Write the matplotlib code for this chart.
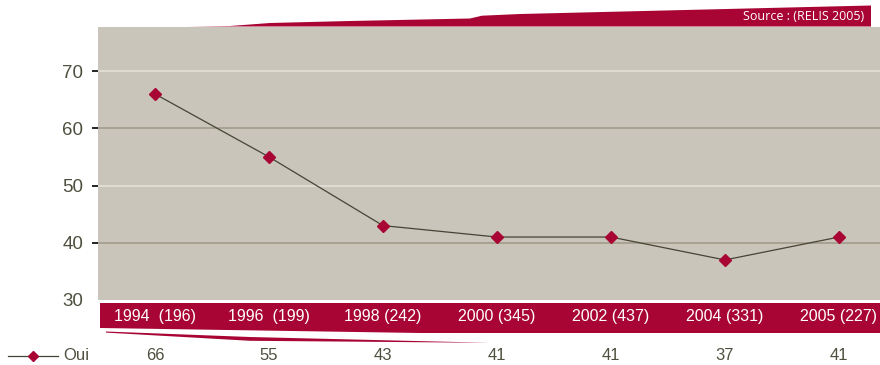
import matplotlib
matplotlib.use("Agg")
import matplotlib.pyplot as plt
from matplotlib.patches import Polygon
from matplotlib.transforms import blended_transform_factory

# Data
years = ["1994  (196)", "1996  (199)", "1998 (242)", "2000 (345)",
         "2002 (437)", "2004 (331)", "2005 (227)"]
oui = [66, 55, 43, 41, 41, 37, 41]
yticks = [30, 40, 50, 60, 70]
series_name = "Oui"
source_text = "Source : (RELIS 2005)"

RED = "#a80534"
BG = "#c9c5ba"
GRID_LIGHT = "#e3e0d9"
GRID_DARK = "#a29c8c"
TXT = "#4f4f3f"
LINE = "#464434"

W, H = 880, 365
fig = plt.figure(figsize=(W / 100, H / 100), dpi=100)
plt.rcParams["font.family"] = ["Liberation Sans", "DejaVu Sans"]


def px(x, y):
    return (x / W, (H - y) / H)


ax = fig.add_axes([98 / W, (H - 300) / H, (W - 98) / W, (300 - 27) / H])
ax.set_facecolor(BG)
ax.set_zorder(1)
for s in ax.spines.values():
    s.set_visible(False)

xs = list(range(len(oui)))
ax.plot(xs, oui, color=LINE, lw=0.9, marker="D", ms=6.5,
        markerfacecolor=RED, markeredgecolor=RED, zorder=3)

ax.set_xlim(-0.5, 6.36)
ax.set_ylim(30, 77.7)
ax.set_xticks([])
ax.set_yticks(yticks)
ax.set_yticklabels([str(v) for v in yticks], fontsize=13.5, color=TXT)
ax.tick_params(axis="y", length=4.5, width=1.2, pad=6)
ax.grid(axis="y", lw=1.2)
for v, t in zip(yticks, ax.yaxis.get_major_ticks()):
    c = GRID_LIGHT if (v // 10) % 2 == 1 else GRID_DARK
    if v == 30:
        t.tick1line.set_visible(False)
        t.gridline.set_visible(False)
    t.tick1line.set_color(c)
    t.gridline.set_color(c)

# Header ribbon with source
header = [px(187, 26.5), px(230, 26), px(270, 23), px(350, 21), px(470, 18.5),
          px(482, 15.7), px(520, 14), px(871, 5.5), px(871, 26.5)]
fig.add_artist(Polygon(header, closed=True, transform=fig.transFigure,
                       facecolor=RED, edgecolor="none", zorder=0))
fig.text(*px(864, 16.5), source_text, ha="right", va="center", color="white",
         fontsize=9, family=["Open Sans", "DejaVu Sans"], zorder=2)

# Category band under the plot
band = [px(100, 303), px(880, 303), px(880, 333), px(420, 333), px(100, 328)]
fig.add_artist(Polygon(band, closed=True, transform=fig.transFigure,
                       facecolor=RED, edgecolor="none", zorder=0))
sliver = [px(106, 331.5), px(250, 337), px(490, 342.8),
          px(250, 340.8), px(106, 332.6)]
fig.add_artist(Polygon(sliver, closed=True, transform=fig.transFigure,
                       facecolor=RED, edgecolor="none", zorder=0))

trans = blended_transform_factory(ax.transData, fig.transFigure)
for x, lab, v in zip(xs, years, oui):
    ax.text(x, px(0, 316)[1], lab, transform=trans, ha="center", va="center",
            color="white", fontsize=11.5, clip_on=False)
    ax.text(x, px(0, 356)[1], str(v), transform=trans, ha="center",
            va="center", color=TXT, fontsize=12, clip_on=False)

# Legend key
fig.add_artist(plt.Line2D([8 / W, 58 / W], [px(0, 356)[1]] * 2,
                          color=LINE, lw=0.9, transform=fig.transFigure))
fig.add_artist(plt.Line2D([33 / W], [px(0, 356)[1]], marker="D", ms=5.5,
                          color=RED, transform=fig.transFigure))
fig.text(*px(63, 356), series_name, ha="left", va="center", color=TXT,
         fontsize=12)

fig.savefig("out.png", dpi=100, facecolor="white")
